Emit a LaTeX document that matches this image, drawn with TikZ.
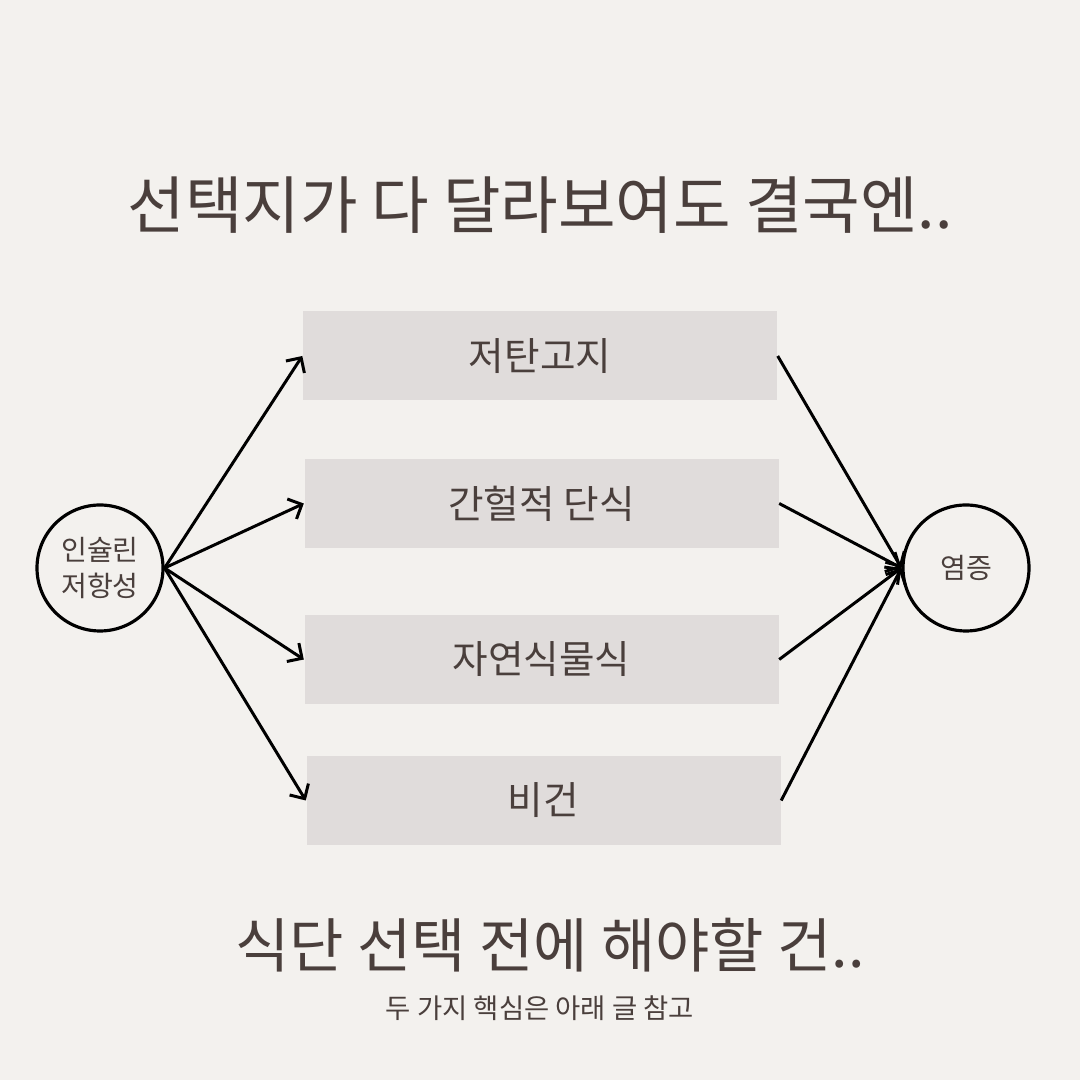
\documentclass[tikz,border=0pt]{standalone}
\usepackage{fontspec}
\setmainfont{Noto Sans CJK KR}
\usetikzlibrary{arrows.meta}

\definecolor{carta}{HTML}{F3F1EE}
\definecolor{riquadro}{HTML}{E0DCDB}
\definecolor{testo}{HTML}{4A3F3C}

\tikzset{
    scelta/.style={fill=riquadro, minimum width=4.74cm, minimum height=0.89cm, text=testo, font=\fontsize{11}{13}\selectfont},
    cerchio/.style={circle, draw=black, line width=0.9pt, minimum size=1.26cm, inner sep=0pt, text=testo, font=\fontsize{8}{10.5}\selectfont, align=center},
    freccia/.style={line width=0.85pt, -{Straight Barb[length=1.1mm, width=2.2mm]}}
}

\begin{document}
\begin{tikzpicture}
            %sfondo
            \fill [carta] (0,0) rectangle (10.8,10.8);

            %titolo
            \node [text=testo, font=\fontsize{17.8}{20}\selectfont] (titolo) at (5.40,8.75) {선택지가 다 달라보여도 결국엔..};

            %disegna i cerchi
            \node [cerchio] (causa) at (1.00,5.12) {인슐린\\저항성};
            \node [cerchio] (effetto) at (9.66,5.12) {염증};

            %disegna i riquadri
            \node [scelta] (s1) at (5.40,7.24) {저탄고지};
            \node [scelta] (s2) at (5.415,5.765) {간헐적 단식};
            \node [scelta] (s3) at (5.415,4.205) {자연식물식};
            \node [scelta] (s4) at (5.435,2.795) {비건};

            %frecce
            \foreach \s in {s1,s2,s3,s4} {
                \draw [freccia] (causa.east) -- (\s.west);
                \draw [freccia] (\s.east) -- (effetto.west);
            }

            %conclusione
            \node [text=testo, font=\fontsize{16.8}{20}\selectfont] (domanda) at (5.50,1.35) {식단 선택 전에 해야할 건..};
            \node [text=testo, font=\fontsize{7.8}{9}\selectfont] (nota) at (5.40,0.72) {두 가지 핵심은 아래 글 참고};

        \end{tikzpicture}
\end{document}
